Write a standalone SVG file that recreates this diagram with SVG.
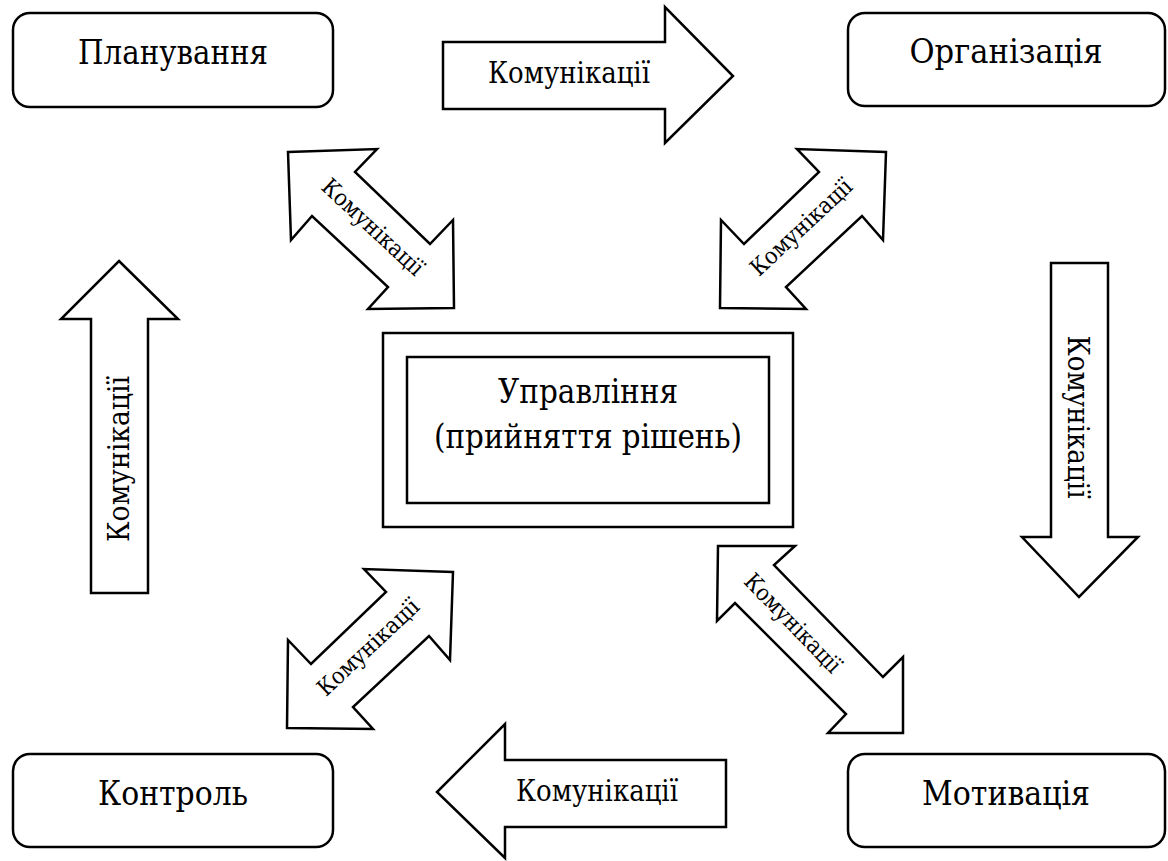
<svg xmlns="http://www.w3.org/2000/svg" width="1168" height="861" viewBox="0 0 1168 861">
  <style>
    .box { fill: #fff; stroke: #000; stroke-width: 2.5; }
    .arrow { fill: #fff; stroke: #000; stroke-width: 2.5; stroke-linejoin: miter; }
    text { font-family: 'DejaVu Serif', 'Liberation Serif', serif; fill: #000; text-anchor: middle; }
    .node { font-size: 34px; }
    .lbl { font-size: 29px; }
    .dlbl { font-size: 23px; }
  </style>
  <rect width="1168" height="861" fill="#fff"/>

  <!-- connectors: block arrows labelled with communications -->
  <g id="connectors">
    <g id="arrow-top">
      <polygon class="arrow" points="443,42 665,42 665,7 733,76 665,143 665,109 443,109"/>
      <text class="lbl" x="569" y="83" textLength="162" lengthAdjust="spacingAndGlyphs">Комунікації</text>
    </g>
    <g id="arrow-bottom">
      <polygon class="arrow" points="726,760 505,760 505,724 437,792 505,858 505,827 726,827"/>
      <text class="lbl" x="597" y="801" textLength="162" lengthAdjust="spacingAndGlyphs">Комунікації</text>
    </g>
    <g id="arrow-left">
      <polygon class="arrow" points="119,261 178,319 148,319 148,593 91,593 91,319 61,319"/>
      <text class="lbl" transform="translate(118,459) rotate(-90)" x="0" y="11" textLength="166" lengthAdjust="spacingAndGlyphs">Комунікації</text>
    </g>
    <g id="arrow-right">
      <polygon class="arrow" points="1051,263 1108,263 1108,537 1138,537 1079,597 1022,537 1051,537"/>
      <text class="lbl" transform="translate(1079,417) rotate(90)" x="0" y="11" textLength="163" lengthAdjust="spacingAndGlyphs">Комунікації</text>
    </g>
    <g id="arrow-nw">
      <polygon class="arrow" points="288,152 377,149 355,172 430,244 453,220 454,308 368,309 388,287 312,216 291,240"/>
      <text class="dlbl" transform="translate(373,227) rotate(43)" x="0" y="8" textLength="130" lengthAdjust="spacingAndGlyphs">Комунікації</text>
    </g>
    <g id="arrow-ne">
      <polygon class="arrow" points="886,152 797,149 819,172 744,244 721,220 720,308 806,309 786,287 862,216 883,240"/>
      <text class="dlbl" transform="translate(801,227) rotate(-43)" x="0" y="8" textLength="130" lengthAdjust="spacingAndGlyphs">Комунікації</text>
    </g>
    <g id="arrow-sw">
      <polygon class="arrow" points="453,572 364,569 386,592 311,664 288,640 287,728 373,729 353,707 429,636 450,660"/>
      <text class="dlbl" transform="translate(368,647) rotate(-43)" x="0" y="8" textLength="130" lengthAdjust="spacingAndGlyphs">Комунікації</text>
    </g>
    <g id="arrow-se">
      <polygon class="arrow" points="718,546 795,546 774,565 883,677 903,657 903,733 828,733 846,714 735,603 717,621"/>
      <text class="dlbl" transform="translate(793,623) rotate(46)" x="0" y="8" textLength="128" lengthAdjust="spacingAndGlyphs">Комунікації</text>
    </g>
  </g>

  <!-- function nodes -->
  <g id="node-planning">
    <rect class="box" x="13" y="13" width="320" height="94" rx="17"/>
    <text class="node" x="173" y="64" textLength="190" lengthAdjust="spacingAndGlyphs">Планування</text>
  </g>
  <g id="node-organization">
    <rect class="box" x="848" y="13" width="317" height="93" rx="17"/>
    <text class="node" x="1006" y="63" textLength="193" lengthAdjust="spacingAndGlyphs">Організація</text>
  </g>
  <g id="node-control">
    <rect class="box" x="13" y="754" width="320" height="93" rx="17"/>
    <text class="node" x="173" y="805" textLength="150" lengthAdjust="spacingAndGlyphs">Контроль</text>
  </g>
  <g id="node-motivation">
    <rect class="box" x="848" y="754" width="317" height="93" rx="17"/>
    <text class="node" x="1006" y="805" textLength="168" lengthAdjust="spacingAndGlyphs">Мотивація</text>
  </g>

  <!-- central decision-making node -->
  <g id="node-management">
    <rect class="box" x="383" y="333" width="410" height="194"/>
    <rect class="box" x="407" y="357" width="362" height="146"/>
    <text class="node" x="588" y="403" textLength="180" lengthAdjust="spacingAndGlyphs">Управління</text>
    <text class="node" x="588" y="448" textLength="308" lengthAdjust="spacingAndGlyphs">(прийняття рішень)</text>
  </g>
</svg>
